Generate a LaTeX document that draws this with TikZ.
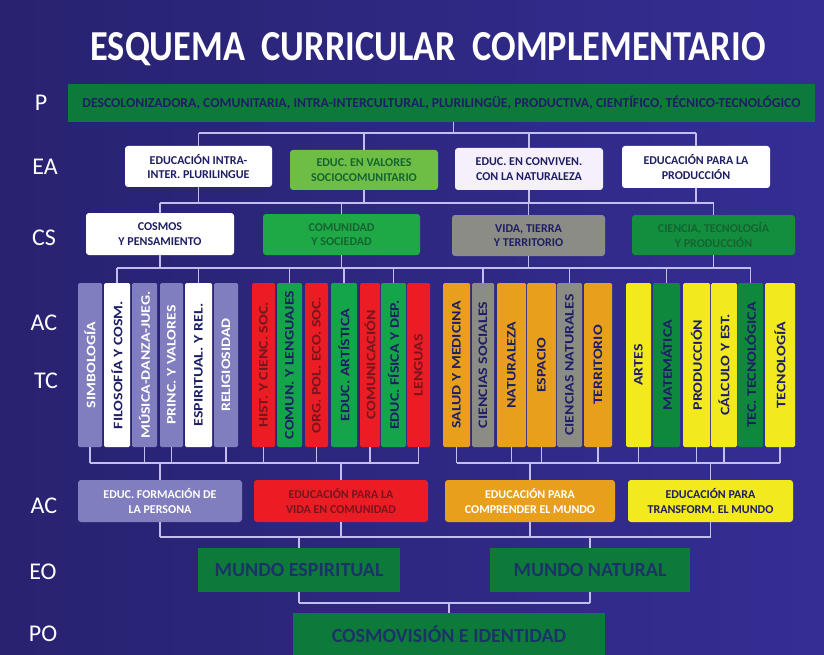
\documentclass[tikz,border=0pt]{standalone}
\usepackage{fontspec}
\setmainfont{Carlito}
\definecolor{bgL}{RGB}{40,34,112}
\definecolor{bgR}{RGB}{52,46,148}
\definecolor{lineC}{RGB}{196,190,240}
\definecolor{navy}{RGB}{30,30,100}
\definecolor{pgreen}{RGB}{14,122,58}
\definecolor{lgreen}{RGB}{110,190,70}
\definecolor{lwhite}{RGB}{245,240,250}
\definecolor{cgreen}{RGB}{30,168,70}
\definecolor{cgrey}{RGB}{140,140,134}
\definecolor{dgreen}{RGB}{18,142,62}
\definecolor{lav}{RGB}{128,126,190}
\definecolor{cred}{RGB}{236,28,36}
\definecolor{rgreen}{RGB}{20,164,74}
\definecolor{corange}{RGB}{232,160,28}
\definecolor{cyellow}{RGB}{242,234,28}
\definecolor{ygreen}{RGB}{14,136,60}
\definecolor{maroon}{RGB}{120,20,30}
\definecolor{slate}{RGB}{26,52,104}
\definecolor{txgreen}{RGB}{20,100,50}
\newcommand\mycol[6]{\node[colbar, fill=#4, text=#5, minimum width=#3pt] (#1) at (#2,365) {\rotatebox{90}{\scalebox{1.22}[1]{#6}}};}
\begin{document}
\begin{tikzpicture}[x=1pt,y=-1pt,
  conn/.style={draw=lineC, line width=1.5pt},
  box/.style={rounded corners=3pt, align=center, inner sep=0pt, text=navy,
    font=\bfseries\fontsize{12}{14.5}\selectfont},
  colbar/.style={rounded corners=1.5pt, inner sep=0pt, minimum height=164pt,
    font=\bfseries\fontsize{13}{15}\selectfont},
  lbl/.style={text=white, inner sep=0pt, font=\fontsize{24}{26}\selectfont},
  big/.style={fill=pgreen, inner sep=0pt, align=center, text=slate,
    font=\bfseries\fontsize{20}{22}\selectfont}]
\useasboundingbox (0,0) rectangle (824,655);
\fill[left color=bgL, right color=bgR] (0,0) rectangle (824,655);

% title
\node[text=white, inner sep=0pt] (title) at (428,49)
  {\resizebox{675pt}{28pt}{\bfseries ESQUEMA\ \ CURRICULAR\ \ COMPLEMENTARIO}};

% left labels
\node[lbl] (lP)  at (41,103) {P};
\node[lbl] (lEA) at (45,167) {EA};
\node[lbl] (lCS) at (44,238) {CS};
\node[lbl] (lAC) at (44,323) {AC};
\node[lbl] (lTC) at (46,381) {TC};
\node[lbl] (lAC2) at (44,506) {AC};
\node[lbl] (lEO) at (43,572) {EO};
\node[lbl] (lPO) at (43,634) {PO};

% P bar
\node[fill=pgreen, minimum width=747pt, minimum height=38pt, inner sep=0pt, text=navy] (p) at (441.5,103)
  {\resizebox{718pt}{!}{\bfseries DESCOLONIZADORA, COMUNITARIA, INTRA-INTERCULTURAL, PLURILINGÜE, PRODUCTIVA, CIENTÍFICO, TÉCNICO-TECNOLÓGICO}};

% EA
\node[box, fill=white, minimum width=147pt, minimum height=41pt] (ea1) at (198.5,166.5) {EDUCACIÓN INTRA-\\INTER. PLURILINGUE};
\node[box, fill=lgreen, text=txgreen, minimum width=148pt, minimum height=40pt] (ea2) at (364,170) {EDUC. EN VALORES\\SOCIOCOMUNITARIO};
\node[box, fill=lwhite, minimum width=148pt, minimum height=42pt] (ea3) at (529,169) {EDUC. EN CONVIVEN.\\CON LA NATURALEZA};
\node[box, fill=white, minimum width=148pt, minimum height=42pt] (ea4) at (696,167) {EDUCACIÓN PARA LA\\PRODUCCIÓN};

% CS
\node[box, fill=white, minimum width=148pt, minimum height=42pt] (cs1) at (160,234) {COSMOS\\Y PENSAMIENTO};
\node[box, fill=cgreen, text=txgreen, minimum width=157pt, minimum height=41pt] (cs2) at (341.5,234.5) {COMUNIDAD\\Y SOCIEDAD};
\node[box, fill=cgrey, minimum width=153pt, minimum height=41pt] (cs3) at (528.5,235.5) {VIDA, TIERRA\\Y TERRITORIO};
\node[box, fill=dgreen, text=txgreen, minimum width=163pt, minimum height=40pt] (cs4) at (713.5,235) {CIENCIA, TECNOLOGÍA\\Y PRODUCCIÓN};

% columns group 1
\mycol{c11}{90}{24}{lav}{white}{SIMBOLOGÍA}
\mycol{c12}{117}{26}{white}{navy}{FILOSOFÍA Y COSM.}
\mycol{c13}{144.5}{25}{lav}{white}{MÚSICA-DANZA-JUEG.}
\mycol{c14}{171.5}{23}{lav}{white}{PRINC. Y VALORES}
\mycol{c15}{198.5}{27}{white}{navy}{ESPIRITUAL. Y REL.}
\mycol{c16}{226}{24}{lav}{white}{RELIGIOSIDAD}
% group 2
\mycol{c21}{263.5}{23}{cred}{maroon}{HIST. Y CIENC. SOC.}
\mycol{c22}{289.5}{25}{rgreen}{navy}{COMUN. Y LENGUAJES}
\mycol{c23}{316.5}{23}{cred}{maroon}{ORG. POL. ECO. SOC.}
\mycol{c24}{344}{26}{rgreen}{navy}{EDUC. ARTÍSTICA}
\mycol{c25}{370}{20}{cred}{maroon}{COMUNICACIÓN}
\mycol{c26}{393.5}{25}{rgreen}{navy}{EDUC. FÍSICA Y DEP.}
\mycol{c27}{418.5}{23}{cred}{maroon}{LENGUAS}
% group 3
\mycol{c31}{456.5}{27}{corange}{navy}{SALUD Y MEDICINA}
\mycol{c32}{483}{22}{cgrey}{navy}{CIENCIAS SOCIALES}
\mycol{c33}{511.5}{29}{corange}{navy}{NATURALEZA}
\mycol{c34}{541.5}{29}{corange}{navy}{ESPACIO}
\mycol{c35}{569.5}{25}{cgrey}{navy}{CIENCIAS NATURALES}
\mycol{c36}{598}{28}{corange}{navy}{TERRITORIO}
% group 4
\mycol{c41}{638.5}{25}{cyellow}{navy}{ARTES}
\mycol{c42}{666.5}{27}{ygreen}{navy}{MATEMÁTICA}
\mycol{c43}{696.5}{27}{cyellow}{navy}{PRODUCCIÓN}
\mycol{c44}{724}{26}{cyellow}{navy}{CÁLCULO Y EST.}
\mycol{c45}{750.5}{25}{ygreen}{navy}{TEC. TECNOLÓGICA}
\mycol{c46}{780}{30}{cyellow}{navy}{TECNOLOGÍA}

% AC
\node[box, fill=lav, text=white, minimum width=164pt, minimum height=42pt] (ac1) at (160,501) {EDUC. FORMACIÓN DE\\LA PERSONA};
\node[box, fill=cred, text=maroon, minimum width=174pt, minimum height=42pt] (ac2) at (341,501) {EDUCACIÓN PARA LA\\VIDA EN COMUNIDAD};
\node[box, fill=corange, text=white, minimum width=170pt, minimum height=42pt] (ac3) at (530,501) {EDUCACIÓN PARA\\COMPRENDER EL MUNDO};
\node[box, fill=cyellow, minimum width=165pt, minimum height=42pt] (ac4) at (710.5,501) {EDUCACIÓN PARA\\TRANSFORM. EL MUNDO};

% EO, PO
\node[big, minimum width=202pt, minimum height=44pt] (eo1) at (299,570) {MUNDO ESPIRITUAL};
\node[big, minimum width=200pt, minimum height=44pt] (eo2) at (590,570) {MUNDO NATURAL};
\node[big, minimum width=312pt, minimum height=42pt] (po) at (449,634) {COSMOVISIÓN E IDENTIDAD};

% bus levels
\coordinate (yA) at (0,133);
\coordinate (yB) at (0,203);
\coordinate (yC) at (0,268);
\coordinate (yD) at (0,463);
\coordinate (yE) at (0,537);
\coordinate (yF) at (0,603);

% P -> EA
\draw[conn] ([xshift=12pt]p.south) -- ([xshift=12pt]p.south |- yA);
\draw[conn] (ea1.north |- yA) -- (ea4.north |- yA);
\foreach \n in {ea1,ea2,ea3,ea4} \draw[conn] (\n.north) -- (\n.north |- yA);
% EA -> CS
\draw[conn] (cs1.north |- yB) -- (cs4.north |- yB);
\foreach \n in {ea1,ea2,ea3,ea4} \draw[conn] (\n.south) -- (\n.south |- yB);
\foreach \n in {cs1,cs2,cs3,cs4} \draw[conn] (\n.north) -- (\n.north |- yB);
% CS -> columns
\draw[conn] (c12.north |- yC) -- (c45.north |- yC);
\foreach \n in {cs1,cs2,cs3,cs4} \draw[conn] (\n.south) -- (\n.south |- yC);
\foreach \n in {c12,c15,c22,c24,c26,c32,c35,c42,c45} \draw[conn] (\n.north) -- (\n.north |- yC);
% columns -> AC
\draw[conn] (c11.south |- yD) -- (c27.south |- yD);
\draw[conn] (c31.south |- yD) -- (c46.south |- yD);
\foreach \n in {c11,c13,c14,c16,c21,c23,c25,c27,c31,c33,c34,c36,c41,c43,c44,c46} \draw[conn] (\n.south) -- (\n.south |- yD);
\foreach \n in {ac1,ac2,ac3,ac4} \draw[conn] (\n.north) -- (\n.north |- yD);
% AC -> EO
\draw[conn] (ac1.south |- yE) -- (ac4.south |- yE);
\foreach \n in {ac1,ac2,ac3,ac4} \draw[conn] (\n.south) -- (\n.south |- yE);
\foreach \n in {eo1,eo2} \draw[conn] (\n.north) -- (\n.north |- yE);
% EO -> PO
\draw[conn] (eo1.south |- yF) -- (eo2.south |- yF);
\foreach \n in {eo1,eo2} \draw[conn] (\n.south) -- (\n.south |- yF);
\draw[conn] (po.north) -- (po.north |- yF);
\end{tikzpicture}
\end{document}
